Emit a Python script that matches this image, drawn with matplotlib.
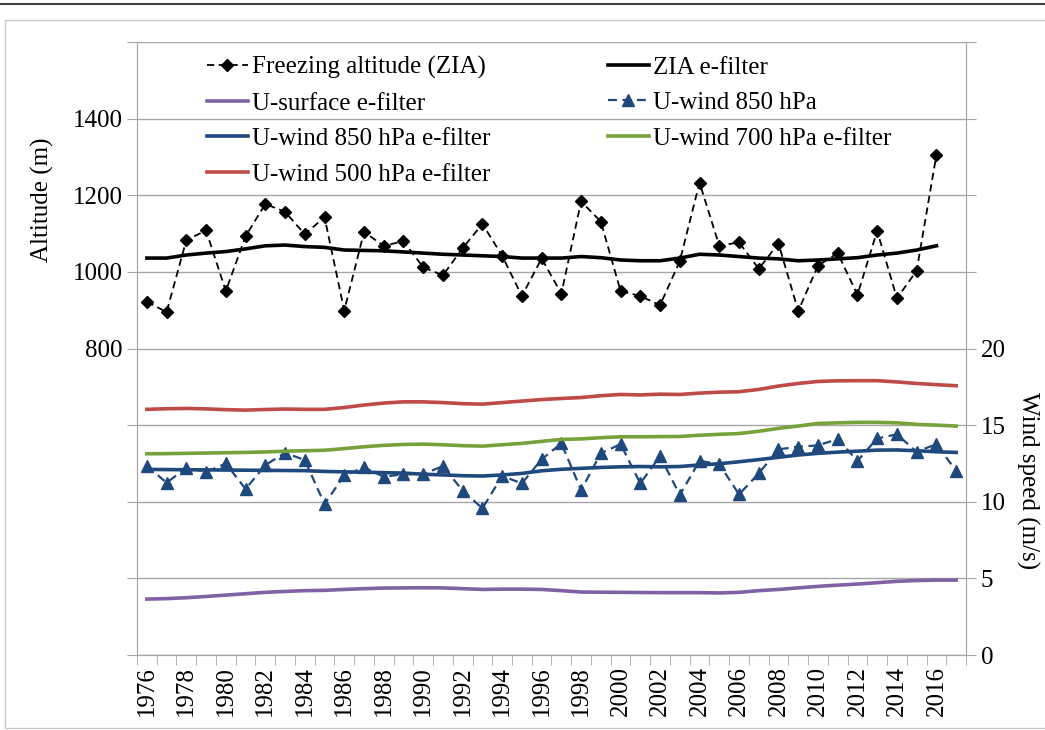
import matplotlib.pyplot as plt
from matplotlib.lines import Line2D
from matplotlib.patches import Rectangle
from matplotlib.ticker import FuncFormatter

plt.rcParams['font.family'] = ['Liberation Serif', 'DejaVu Serif']

years = list(range(1976, 2018))

# freezing altitude (m), 1976-2016
zia = [922, 895, 1083, 1108, 950, 1093, 1177, 1157, 1098, 1143,
       899, 1104, 1068, 1080, 1012, 991, 1062, 1125, 1042, 937,
       1035, 943, 1184, 1131, 950, 937, 913, 1028, 1233, 1068,
       1077, 1008, 1074, 898, 1016, 1049, 940, 1107, 931, 1003,
       1305]

zia_filter = [1036, 1036, 1044, 1049, 1053, 1060, 1068, 1070, 1066, 1064,
              1057, 1056, 1055, 1052, 1049, 1046, 1044, 1042, 1040, 1036,
              1036, 1036, 1040, 1037, 1031, 1029, 1029, 1036, 1046, 1044,
              1040, 1036, 1034, 1029, 1031, 1034, 1037, 1044, 1049, 1057,
              1068]

# wind speeds (m/s), 1976-2017
u850 = [12.35, 11.24, 12.22, 11.94, 12.5, 10.83, 12.39, 13.2, 12.72, 9.85,
        11.72, 12.24, 11.63, 11.8, 11.8, 12.33, 10.72, 9.57, 11.68, 11.2,
        12.77, 13.81, 10.76, 13.16, 13.76, 11.2, 12.98, 10.44, 12.67, 12.46,
        10.48, 11.85, 13.42, 13.59, 13.68, 14.09, 12.67, 14.13, 14.4, 13.26,
        13.76, 12.02]

u850_filter = [12.11, 12.1, 12.09, 12.08, 12.07, 12.06, 12.05, 12.04, 12.03, 11.98,
               11.95, 11.93, 11.9, 11.87, 11.8, 11.75, 11.7, 11.68, 11.75, 11.85,
               12.02, 12.12, 12.18, 12.24, 12.28, 12.3, 12.28, 12.3, 12.4, 12.48,
               12.61, 12.75, 12.9, 13.05, 13.16, 13.24, 13.3, 13.37, 13.38, 13.33,
               13.26, 13.22]

u700_filter = [13.13, 13.14, 13.16, 13.18, 13.2, 13.22, 13.25, 13.3, 13.33, 13.36,
               13.47, 13.59, 13.68, 13.74, 13.76, 13.72, 13.66, 13.63, 13.72, 13.81,
               13.94, 14.07, 14.1, 14.18, 14.24, 14.24, 14.25, 14.26, 14.34, 14.4,
               14.45, 14.6, 14.79, 14.94, 15.11, 15.15, 15.18, 15.18, 15.15, 15.05,
               15.0, 14.94]

u500_filter = [16.03, 16.07, 16.09, 16.06, 16.01, 15.98, 16.02, 16.05, 16.03, 16.03,
               16.15, 16.31, 16.44, 16.52, 16.52, 16.47, 16.4, 16.37, 16.47, 16.57,
               16.67, 16.74, 16.8, 16.92, 17.0, 16.97, 17.02, 17.0, 17.09, 17.15,
               17.18, 17.33, 17.55, 17.72, 17.85, 17.89, 17.9, 17.9, 17.82, 17.72,
               17.64, 17.57]

u_surface = [3.65, 3.68, 3.74, 3.82, 3.91, 4.0, 4.09, 4.15, 4.2, 4.22,
             4.28, 4.33, 4.37, 4.38, 4.39, 4.38, 4.33, 4.28, 4.3, 4.3,
             4.28, 4.2, 4.11, 4.1, 4.09, 4.08, 4.07, 4.07, 4.07, 4.05,
             4.09, 4.2, 4.28, 4.38, 4.48, 4.56, 4.63, 4.72, 4.81, 4.86,
             4.89, 4.89]

alt_labels = [800, 1000, 1200, 1400]
wind_labels = [0, 5, 10, 15, 20]

grid_col = '#A6A6A6'
c_purple = '#7F62A3'
c_blue = '#1F497D'
c_green = '#77A23B'
c_red = '#BE4B48'
fs = 18

fig = plt.figure(figsize=(10.45, 7.3), dpi=100)

# outer frame like the source document
fig.add_artist(Line2D([0, 1], [0.994, 0.994], color='#404040', lw=1.5,
                      transform=fig.transFigure))
fig.add_artist(Rectangle((0.005, 0.003), 1.2, 0.97, transform=fig.transFigure,
                         fill=False, edgecolor='#C8C8C8', lw=1))

ax = fig.add_axes([0.1311, 0.1027, 0.7933, 0.8398])
ax2 = ax.twinx()

x = list(range(len(years)))

h_zia, = ax.plot(x[:len(zia)], zia, color='black', ls=(0, (4, 2.5)), lw=1.3,
                 marker='D', ms=6, label='Freezing altitude (ZIA)')
h_ziaf, = ax.plot(x[:len(zia_filter)], zia_filter, color='black', lw=2.6,
                  label='ZIA e-filter')

h_surf, = ax2.plot(x, u_surface, color=c_purple, lw=2.6, label='U-surface e-filter')
h_u850, = ax2.plot(x, u850, color=c_blue, ls=(0, (4, 2.5)), lw=1.6,
                   marker='^', ms=8, label='U-wind 850 hPa')
h_u850f, = ax2.plot(x, u850_filter, color=c_blue, lw=2.6, label='U-wind 850 hPa e-filter')
h_u700f, = ax2.plot(x, u700_filter, color=c_green, lw=2.6, label='U-wind 700 hPa e-filter')
h_u500f, = ax2.plot(x, u500_filter, color=c_red, lw=2.6, label='U-wind 500 hPa e-filter')

ax.set_xlim(-0.5, len(years) - 0.5)
ax.set_ylim(0, 1600)
ax2.set_ylim(0, 40)

ax.set_yticks(range(0, 1601, 200))
ax.yaxis.set_major_formatter(FuncFormatter(lambda v, p: f'{int(v)}' if v in alt_labels else ''))
ax2.set_yticks(range(0, 41, 5))
ax2.yaxis.set_major_formatter(FuncFormatter(lambda v, p: f'{int(v)}' if v in wind_labels else ''))

ax.set_xticks(x[::2])
ax.set_xticklabels([str(y) for y in years[::2]], rotation=90)
ax.set_xticks([i - 0.5 for i in range(len(years) + 1)], minor=True)
ax.tick_params(axis='x', which='major', length=0, pad=8)
ax.tick_params(axis='x', which='minor', length=7, color=grid_col)

ax.grid(axis='y', color=grid_col, lw=1)
ax.set_axisbelow(True)

for a in (ax, ax2):
    for s in a.spines.values():
        s.set_color(grid_col)
    a.spines['top'].set_visible(False)
    a.tick_params(axis='y', length=7, color=grid_col, labelsize=fs)
ax.tick_params(axis='x', labelsize=fs)

ax.set_ylabel('Altitude (m)', fontsize=fs)
ax.yaxis.set_label_coords(-0.1, 0.742)
ax2.set_ylabel('Wind speed (m/s)', fontsize=fs, rotation=-90, va='bottom')
ax2.yaxis.set_label_coords(1.06, 0.285)

handles = [h_zia, h_surf, h_u850f, h_u500f, h_ziaf, h_u850, h_u700f]
ax2.legend(handles=handles, ncol=2, frameon=False, fontsize=fs,
           loc='upper left', bbox_to_anchor=(0.0844, 0.977),
           borderpad=0, borderaxespad=0,
           handlelength=1.64, handletextpad=0.16, columnspacing=4.7,
           labelspacing=0.52)

fig.savefig('out.png', dpi=100)
